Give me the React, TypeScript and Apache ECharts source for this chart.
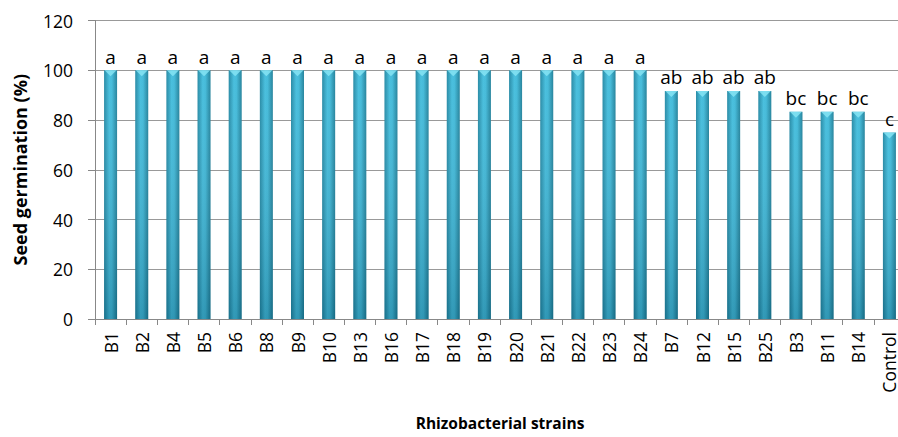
import React, { useEffect, useRef } from "react";
import * as echarts from "echarts";

const categories = ["B1","B2","B4","B5","B6","B8","B9","B10","B13","B16","B17","B18","B19","B20","B21","B22","B23","B24","B7","B12","B15","B25","B3","B11","B14","Control"];
const germination = [100,100,100,100,100,100,100,100,100,100,100,100,100,100,100,100,100,100,91.67,91.67,91.67,91.67,83.33,83.33,83.33,75];
const letters = ["a","a","a","a","a","a","a","a","a","a","a","a","a","a","a","a","a","a","ab","ab","ab","ab","bc","bc","bc","c"];
const yTicks = [0, 20, 40, 60, 80, 100, 120];

const FONT = "Open Sans";

export default function App() {
  const ref = useRef<HTMLDivElement>(null);
  useEffect(() => {
    if (!ref.current) return;
    const chart = echarts.init(ref.current, null, { renderer: "svg" });
    const catData = categories.map((c, i) =>
      i === categories.length - 1
        ? { value: c, textStyle: { padding: [0, 0, 6, 0] } }
        : c
    );
    chart.setOption({
      animation: false,
      grid: { left: 95, top: 20.5, height: 298.5, width: 810, containLabel: false, outerBoundsMode: "none" },
      xAxis: {
        type: "category",
        data: catData,
        name: "Rhizobacterial strains",
        nameLocation: "middle",
        nameGap: 96,
        nameTextStyle: { fontFamily: FONT, fontWeight: "bold", fontSize: 15.5, color: "#000" },
        axisLine: { lineStyle: { color: "#888", width: 1 } },
        axisTick: { show: true, alignWithLabel: false, length: 6, lineStyle: { color: "#888" } },
        axisLabel: { rotate: 90, margin: 13, fontFamily: FONT, fontSize: 17.5, lineHeight: 15, color: "#000", interval: 0 },
      },
      yAxis: {
        type: "value",
        min: yTicks[0],
        max: yTicks[yTicks.length - 1],
        interval: 20,
        name: "Seed germination (%)",
        nameLocation: "middle",
        nameGap: 66,
        nameTextStyle: { fontFamily: FONT, fontWeight: "bold", fontSize: 18, color: "#000" },
        axisLine: { show: true, lineStyle: { color: "#888" } },
        axisTick: { show: true, length: 7, lineStyle: { color: "#888" } },
        axisLabel: { margin: 22, fontFamily: FONT, fontSize: 17.5, color: "#000" },
        splitLine: { lineStyle: { color: "#999", width: 1 } },
      },
      series: [
        {
          type: "bar",
          data: germination,
          barWidth: 13,
          itemStyle: {
            color: new echarts.graphic.LinearGradient(0, 0, 1, 0, [
              { offset: 0, color: "#1f86a2" },
              { offset: 0.4, color: "#40bcdc" },
              { offset: 0.6, color: "#3db8d8" },
              { offset: 1, color: "#1c7e98" },
            ]),
          },
          label: {
            show: true,
            position: "top",
            distance: 4,
            formatter: (p: any) => letters[p.dataIndex],
            fontFamily: FONT,
            fontSize: 19,
            color: "#000",
          },
        },
        {
          type: "bar",
          data: germination,
          barWidth: 13,
          barGap: "-100%",
          silent: true,
          itemStyle: {
            color: new echarts.graphic.LinearGradient(0, 0, 0, 1, [
              { offset: 0, color: "rgba(255,255,255,0.05)" },
              { offset: 1, color: "rgba(0,30,50,0.22)" },
            ]),
          },
        },
        {
          type: "scatter",
          data: germination,
          symbol: "triangle",
          symbolRotate: 180,
          symbolSize: [12, 6],
          symbolOffset: [0, 3],
          itemStyle: { color: "#8ae6f5" },
          silent: true,
          z: 3,
        },
      ],
    });
    return () => chart.dispose();
  }, []);
  return <div ref={ref} style={{ position: "fixed", left: 0, top: 0, width: 898, height: 437, background: "#fff" }} />;
}
